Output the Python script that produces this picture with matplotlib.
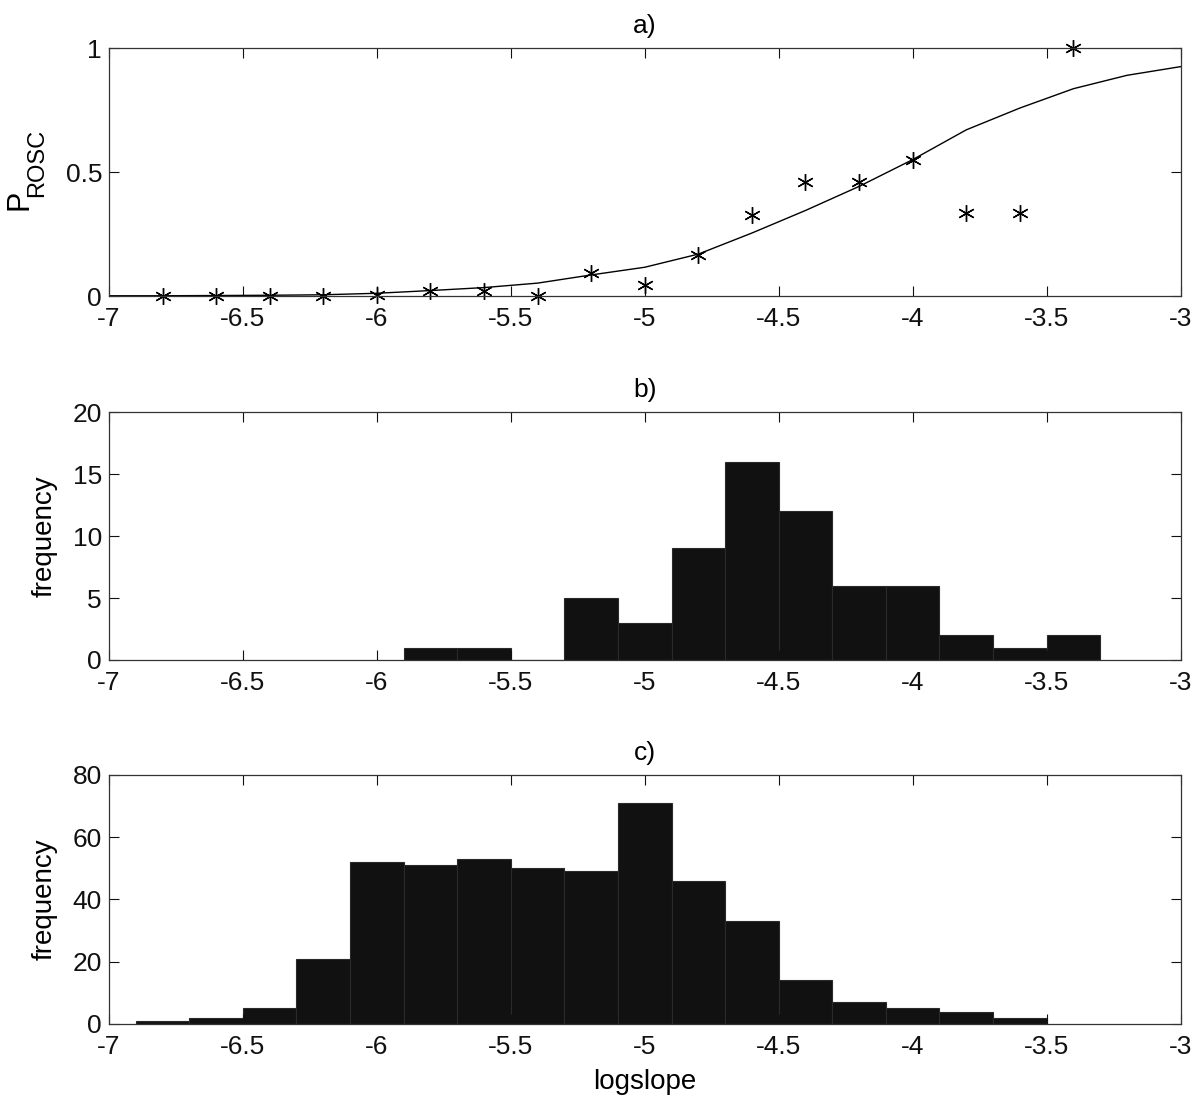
import numpy as np
import matplotlib
matplotlib.use('Agg')
import matplotlib.pyplot as plt

plt.rcParams['font.family'] = ['Liberation Sans', 'DejaVu Sans']
plt.rcParams['axes.unicode_minus'] = False

# panel a: observed proportions and fitted curve
obs_x = [-6.8, -6.6, -6.4, -6.2, -6.0, -5.8, -5.6, -5.4, -5.2, -5.0,
         -4.8, -4.6, -4.4, -4.2, -4.0, -3.8, -3.6, -3.4]
obs_p = [0.0, 0.0, 0.0, 0.0, 0.004, 0.022, 0.019, 0.0, 0.092, 0.043,
         0.165, 0.327, 0.461, 0.46, 0.55, 0.335, 0.335, 1.0]
fit_x = [-7.0, -6.8, -6.6, -6.4, -6.2, -6.0, -5.8, -5.6, -5.4, -5.2, -5.0,
         -4.8, -4.6, -4.4, -4.2, -4.0, -3.8, -3.6, -3.4, -3.2, -3.0]
fit_p = [0.001, 0.001, 0.002, 0.003, 0.005, 0.011, 0.022, 0.034, 0.052, 0.085, 0.116,
         0.169, 0.254, 0.345, 0.442, 0.55, 0.67, 0.758, 0.836, 0.89, 0.925]

# panel b: ROSC histogram (bin centres, counts)
b_centres = [-5.8, -5.6, -5.4, -5.2, -5.0, -4.8, -4.6, -4.4, -4.2, -4.0, -3.8, -3.6, -3.4]
b_counts = [1, 1, 0, 5, 3, 9, 16, 12, 6, 6, 2, 1, 2]

# panel c: all shocks histogram
c_centres = [-6.8, -6.6, -6.4, -6.2, -6.0, -5.8, -5.6, -5.4, -5.2, -5.0,
             -4.8, -4.6, -4.4, -4.2, -4.0, -3.8, -3.6]
c_counts = [1, 2, 5, 21, 52, 51, 53, 50, 49, 71, 46, 33, 14, 7, 5, 4, 2]

xticks = [-7, -6.5, -6, -5.5, -5, -4.5, -4, -3.5, -3]
xticklabels = ['-7', '-6.5', '-6', '-5.5', '-5', '-4.5', '-4', '-3.5', '-3']

fs = 19

fig = plt.figure(figsize=(12, 11.07), dpi=100)
ax_a = fig.add_axes([0.0908, 0.7326, 0.893, 0.224])
ax_b = fig.add_axes([0.0908, 0.4038, 0.893, 0.224])
ax_c = fig.add_axes([0.0908, 0.0750, 0.893, 0.225])


def style(ax, yticks, title):
    ax.set_xlim(-7, -3)
    ax.set_xticks(xticks)
    ax.set_xticklabels(xticklabels)
    ax.set_yticks(yticks)
    ax.set_yticklabels([str(t) for t in yticks])
    ax.tick_params(direction='in', length=7, width=0.8, top=True, right=True,
                   labelsize=fs, colors='#111111')
    ax.tick_params(axis='x', pad=8)
    ax.tick_params(axis='y', pad=5)
    for s in ax.spines.values():
        s.set_color('#333333')
        s.set_linewidth(0.9)
    ax.set_title(title, fontsize=19, pad=11)


# a)
ax_a.plot(fit_x, fit_p, color='black', lw=1)
ax_a.plot(obs_x, obs_p, ls='none', marker=(6, 2, 0), ms=12, mew=1.0,
          color='black', clip_on=False)
ax_a.set_ylim(0, 1)
style(ax_a, [0, 0.5, 1], 'a)')
fig.text(19 / 1200, 1 - 200 / 1107, 'P', fontsize=22, rotation=90,
         ha='center', va='center')
fig.text(37 / 1200, 1 - 163 / 1107, 'ROSC', fontsize=17, rotation=90,
         ha='center', va='center')

# b)
ax_b.bar(b_centres, b_counts, width=0.2, color='#111111', edgecolor='#2a2a2a', lw=0.8)
ax_b.set_ylim(0, 20)
style(ax_b, [0, 5, 10, 15, 20], 'b)')
ax_b.set_ylabel('frequency', fontsize=20)
ax_b.yaxis.set_label_coords(-0.048, 0.5)

# c)
ax_c.bar(c_centres, c_counts, width=0.2, color='#111111', edgecolor='#2a2a2a', lw=0.8)
ax_c.set_ylim(0, 80)
style(ax_c, [0, 20, 40, 60, 80], 'c)')
ax_c.set_ylabel('frequency', fontsize=20)
ax_c.yaxis.set_label_coords(-0.048, 0.5)
ax_c.set_xlabel('logslope', fontsize=20)
ax_c.xaxis.set_label_coords(0.5, -0.18)

fig.savefig('out.png', dpi=100, facecolor='white')
